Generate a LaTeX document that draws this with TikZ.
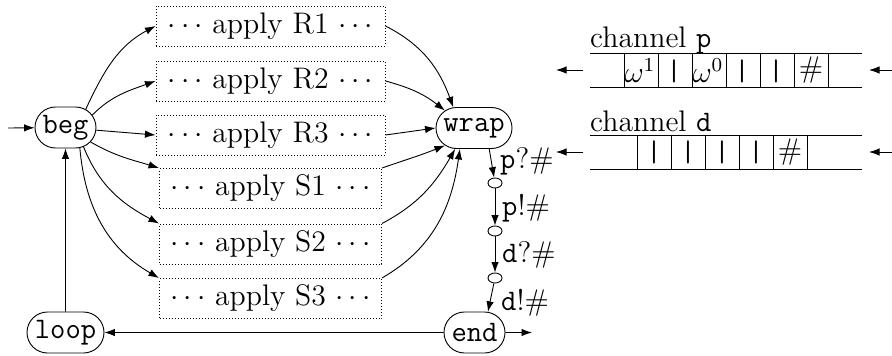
\documentclass[tikz,border=0pt]{standalone}
\usepackage{graphicx}
\usetikzlibrary{arrows.meta,shapes.misc,shapes.geometric}
\newcommand\bigtxt[1]{\scalebox{2.48}{#1}}
\newcommand\appl[2]{\bigtxt{$\cdots$ apply #1#2 $\cdots$}\hspace{5pt}}
\tikzset{
  stateb/.style={draw,rounded rectangle,minimum height=41pt,inner sep=0pt,line width=0.9pt},
  mid/.style={draw,ellipse,minimum width=14pt,minimum height=10pt,inner sep=0pt,line width=0.9pt},
  applb/.style={draw,dotted,line width=1pt,minimum height=40pt,inner sep=0pt},
  lbl/.style={inner sep=0pt,anchor=base west},
  arr/.style={-{Latex[length=10.5pt,width=7.5pt]},line width=0.9pt},
  tape/.style={line width=0.9pt},
  cellt/.style={inner sep=0pt}
}
\begin{document}
\begin{tikzpicture}[x=1pt,y=-1pt]
\fontsize{12}{14}\selectfont
\useasboundingbox (0,0) rectangle (892,356);
\node[stateb,minimum width=61pt] (beg) at (65.5,127.5) {\bigtxt{\texttt{beg}}};
\node[stateb,minimum width=77pt] (loop) at (65.5,332.5) {\bigtxt{\texttt{loop}}};
\node[stateb,minimum width=76pt] (wrap) at (474,128) {\bigtxt{\texttt{wrap}}};
\node[stateb,minimum width=61pt] (end) at (474.5,332.5) {\bigtxt{\texttt{end}}};
\node[applb,minimum width=229pt] (r1) at (270.5,26) {\appl R1};
\node[applb,minimum width=229pt] (r2) at (270.5,81) {\appl R2};
\node[applb,minimum width=229pt] (r3) at (270.5,135) {\appl R3};
\node[applb,minimum width=222pt] (s1) at (270.5,188.5) {\appl S1};
\node[applb,minimum width=222pt] (s2) at (270.5,244) {\appl S2};
\node[applb,minimum width=222pt] (s3) at (270.5,298.5) {\appl S3};
\node[mid] (c1) at (495,183) {};
\node[mid] (c2) at (495,231) {};
\node[mid] (c3) at (495,278) {};
\coordinate (inn) at (8,128);
\coordinate (out) at (532,332.5);
\draw[arr] (inn) -- (beg);
\draw[arr] (beg.42) to[out=65,in=208] (r1.west);
\draw[arr] (beg.25) to[out=45,in=200] (r2.west);
\draw[arr] (beg.-5) -- (r3.west);
\draw[arr] (beg.-30) to[out=-30,in=163] (s1.north west);
\draw[arr] (beg.-47) to[out=-68,in=152] (s2.north west);
\draw[arr] (beg.-55) to[out=-85,in=150] (s3.north west);
\draw[arr] (r1.east) to[out=-27,in=110] (wrap.135);
\draw[arr] (r2.east) to[out=-15,in=142] (wrap.149);
\draw[arr] (r3.east) -- (wrap.west);
\draw[arr] (s1.north east) to[out=19,in=202] (wrap.211);
\draw[arr] (s2.north east) to[out=28,in=-120] (wrap.228);
\draw[arr] (s3.north east) to[out=30,in=-98] (wrap.236);
\draw[arr] (wrap.-54) -- (c1);
\draw[arr] (c1) -- (c2);
\draw[arr] (c2) -- (c3);
\draw[arr] (c3) -- (end.57);
\draw[arr] (end) -- (loop);
\draw[arr] (loop) -- (beg);
\draw[arr] (end) -- (out);
\node[lbl] (l1) at (500,168) {\bigtxt{\texttt{p}?$\#$}};
\node[lbl] (l2) at (502,215) {\bigtxt{\texttt{p}!$\#$}};
\node[lbl] (l3) at (502,262) {\bigtxt{\texttt{d}?$\#$}};
\node[lbl] (l4) at (501,310) {\bigtxt{\texttt{d}!$\#$}};
\node[lbl] (cp) at (590,47) {\bigtxt{channel \texttt{p}}};
\node[lbl] (cd) at (590,131) {\bigtxt{channel \texttt{d}}};
\draw[tape] (590,53) -- (862,53) (590,87) -- (862,87);
\foreach \x in {624,658,692,726,760,794,828} \draw[tape] (\x,53) -- (\x,87);
\draw[tape] (590,135) -- (862,135) (590,169) -- (862,169);
\foreach \x in {637,671,705,739,773,807} \draw[tape] (\x,135) -- (\x,169);
\node[cellt] (a1) at (640,71) {\bigtxt{$\omega^1$}};
\node[cellt] (a2) at (674,71) {\bigtxt{\texttt{|}}};
\node[cellt] (a3) at (708,71) {\bigtxt{$\omega^0$}};
\node[cellt] (a4) at (742,71) {\bigtxt{\texttt{|}}};
\node[cellt] (a5) at (776,71) {\bigtxt{\texttt{|}}};
\node[cellt] (a6) at (811,70) {\bigtxt{$\#$}};
\node[cellt] (b1) at (654,152) {\bigtxt{\texttt{|}}};
\node[cellt] (b2) at (688,152) {\bigtxt{\texttt{|}}};
\node[cellt] (b3) at (722,152) {\bigtxt{\texttt{|}}};
\node[cellt] (b4) at (756,152) {\bigtxt{\texttt{|}}};
\node[cellt] (b5) at (790,152) {\bigtxt{$\#$}};
\coordinate (pl1) at (583,70); \coordinate (pl2) at (556,70);
\coordinate (pr1) at (892,70); \coordinate (pr2) at (869,70);
\coordinate (dl1) at (583,152); \coordinate (dl2) at (556,152);
\coordinate (dr1) at (892,152); \coordinate (dr2) at (869,152);
\draw[arr] (pl1) -- (pl2);
\draw[arr] (pr1) -- (pr2);
\draw[arr] (dl1) -- (dl2);
\draw[arr] (dr1) -- (dr2);
\end{tikzpicture}
\end{document}
